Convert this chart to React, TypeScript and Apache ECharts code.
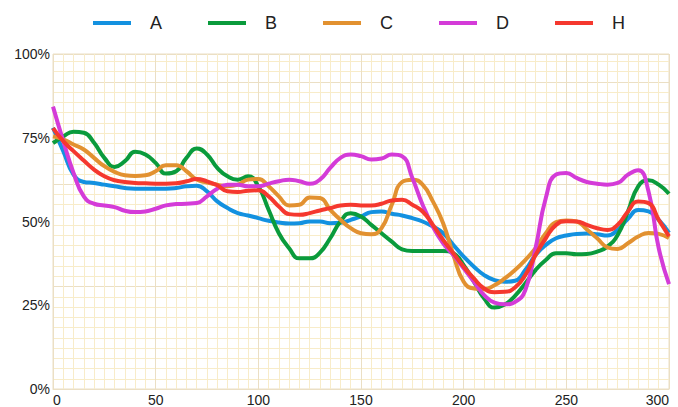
import React, { useEffect, useRef } from "react";
import * as echarts from "echarts";

const xValues = [0, 5, 10, 15, 20, 25, 30, 35, 40, 45, 50, 55, 60, 65, 70, 75, 80, 85, 90, 95, 100, 105, 110, 115, 120, 125, 130, 135, 140, 145, 150, 155, 160, 165, 170, 175, 180, 185, 190, 195, 200, 205, 210, 215, 220, 225, 230, 235, 240, 245, 250, 255, 260, 265, 270, 275, 280, 285, 290, 295, 300];

const seriesA = [78, 71, 64, 61.8, 61.5, 61, 60.5, 60, 59.8, 59.8, 59.8, 59.8, 60, 60.5, 60.7, 59, 56, 54, 52.5, 51.8, 51, 50.2, 49.7, 49.4, 49.5, 50, 50, 49.5, 49.6, 50.5, 51.5, 52.8, 53, 52.3, 51.8, 51, 50, 48.5, 46.5, 43, 39.5, 36.5, 34, 32.5, 32, 32.3, 35.5, 40, 43, 45, 45.8, 46.3, 46.4, 46.2, 45.8, 47.5, 50.8, 53.4, 53, 50.5, 46.6];
const seriesB = [73.4, 75.4, 76.8, 76.5, 73.5, 69, 66.3, 68, 70.8, 70, 67.5, 64.3, 65, 69, 71.8, 70, 66, 63.5, 62.5, 63.5, 60.5, 53.5, 46.5, 42, 39, 39, 40.7, 45, 50, 52.5, 51.5, 49, 46.5, 44, 41.7, 41.2, 41.2, 41.2, 41.2, 40.5, 37, 32, 27, 24.3, 25.2, 27.8, 31.5, 35.5, 38.5, 40.5, 40.5, 40.2, 40.3, 41, 42.5, 46, 53, 60.5, 62.3, 61, 58.3];
const seriesC = [75.4, 74.5, 73, 71.5, 69, 66.5, 64.8, 63.8, 63.6, 63.8, 65, 66.8, 66.8, 65, 62.5, 61.6, 61, 60.5, 61, 62.5, 62.7, 60.5, 57.5, 54.8, 55, 57.2, 57, 53.5, 50.5, 48, 46.5, 46.2, 48, 55, 61.8, 62.5, 61, 56, 49.5, 40, 32, 30, 29.8, 31, 33, 35.5, 38.5, 42, 46.5, 49.8, 50.3, 50, 47.6, 45, 42.3, 41.8, 43.5, 45.5, 46.6, 46.3, 45.1];
const seriesD = [84.3, 74, 64.5, 57.5, 55.3, 54.8, 54.3, 53.2, 52.8, 53, 53.8, 54.8, 55.2, 55.3, 55.5, 57.5, 59.8, 61, 61, 60.5, 60.5, 61.3, 62, 62.5, 62, 61.3, 62.5, 66, 69, 70, 69.5, 68.5, 68.8, 70, 69.5, 63, 55, 48.5, 43.5, 40, 36, 32, 28, 25.8, 25.3, 26, 29.5, 42, 57, 64, 64.5, 63, 61.8, 61.3, 61, 61.5, 64, 65.3, 59, 42, 31.3];
const seriesH = [77.9, 74, 71, 68.2, 65.5, 63.5, 62.3, 61.8, 61.5, 61.4, 61.3, 61.3, 61.4, 62, 62.7, 62, 60.8, 59, 58.8, 59.2, 59.3, 57.5, 54.5, 52.2, 52, 52.5, 53.3, 54, 54.8, 55, 54.8, 54.8, 55.3, 56.3, 56.5, 55, 53, 49, 44.5, 40.5, 36.5, 33, 30, 28.9, 29, 30.3, 34, 40, 45, 49, 50.1, 50, 49, 48, 47.5, 49, 53, 56, 55.5, 50.5, 45.6];

const seriesNames = ["A", "B", "C", "D", "H"];
const seriesValues = [seriesA, seriesB, seriesC, seriesD, seriesH];
const seriesColors = ["#1391e0", "#0a9b3c", "#e29130", "#d43bd8", "#f5382e"];
const yTickLabels = ["0%", "25%", "50%", "75%", "100%"];

const MAJOR = "#ebdfc4";
const MINOR = "#f8ecc9";

export default function App() {
  const ref = useRef<HTMLDivElement>(null);
  useEffect(() => {
    if (!ref.current) return;
    const chart = echarts.init(ref.current, null, { renderer: "svg" });
    const gridMax = (300 * 336) / 616;
    chart.setOption({
      animation: false,
      backgroundColor: "#ffffff",
      textStyle: { fontFamily: "Liberation Sans, Arial, sans-serif" },
      legend: {
        left: 88,
        top: 9,
        icon: "rect",
        itemWidth: 38,
        itemHeight: 4,
        itemGap: 46,
        textStyle: { fontSize: 18, color: "#222", padding: [0, 0, 0, 14] },
        data: seriesNames,
      },
      grid: {
        left: 53,
        right: 9,
        top: 54,
        bottom: 17,
        show: true,
        borderColor: MAJOR,
        borderWidth: 1,
        containLabel: false,
      },
      xAxis: {
        type: "value",
        min: 0,
        max: 300,
        interval: 50,
        axisLine: { show: true, lineStyle: { color: MAJOR } },
        axisTick: { show: false },
        minorTick: { show: true, splitNumber: 10, length: 0, lineStyle: { opacity: 0 } },
        axisLabel: {
          fontSize: 14,
          color: "#222",
          margin: 4,
          alignMinLabel: "left",
          alignMaxLabel: "right",
        },
        splitLine: { show: true, lineStyle: { color: MAJOR, width: 1 } },
        minorSplitLine: { show: true, lineStyle: { color: MINOR, width: 1 } },
        z: 1,
      },
      yAxis: [
        {
          type: "value",
          min: 0,
          max: 100,
          interval: 25,
          axisLine: { show: false },
          axisTick: { show: false },
          splitLine: { show: false },
          axisLabel: {
            fontSize: 14,
            color: "#222",
            margin: 3,
            formatter: (v: number) => yTickLabels[Math.round(v / 25)] ?? "",
          },
        },
        {
          type: "value",
          min: 0,
          max: gridMax,
          interval: 5,
          position: "right",
          axisLine: { show: false },
          axisTick: { show: false },
          axisLabel: { show: false },
          splitLine: { show: true, lineStyle: { color: MINOR, width: 1 } },
        },
        {
          type: "value",
          min: 0,
          max: gridMax,
          interval: 50,
          position: "right",
          axisLine: { show: false },
          axisTick: { show: false },
          axisLabel: { show: false },
          splitLine: { show: true, lineStyle: { color: MAJOR, width: 1 } },
        },
      ],
      series: seriesNames.map((name, i) => ({
        name,
        type: "line",
        yAxisIndex: 0,
        smooth: 0.5,
        symbol: "none",
        color: seriesColors[i],
        lineStyle: { width: 4, color: seriesColors[i] },
        data: xValues.map((x, j) => [x, seriesValues[i][j]]),
        z: 3 + i,
      })),
    });
    return () => chart.dispose();
  }, []);
  return (
    <div
      ref={ref}
      style={{ position: "fixed", left: 0, top: 0, width: 678, height: 407 }}
    />
  );
}
